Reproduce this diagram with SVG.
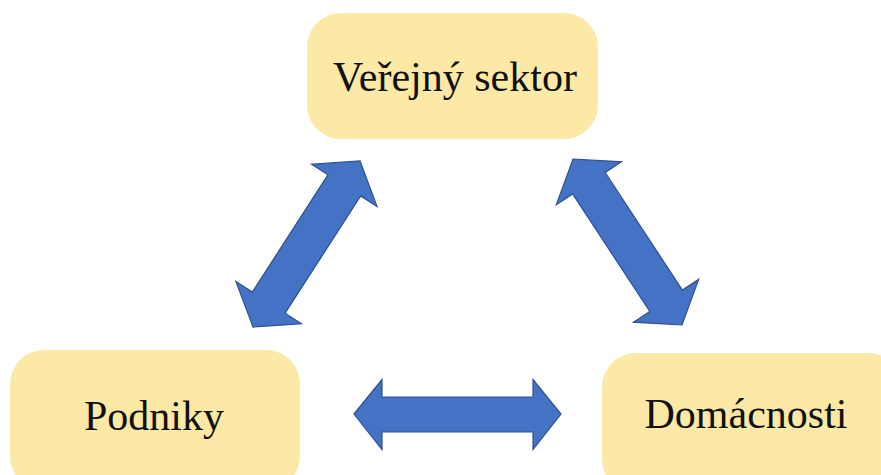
<svg xmlns="http://www.w3.org/2000/svg" width="881" height="475" viewBox="0 0 881 475">
<defs>
<style>
.box{fill:#FCE9A5;stroke:none}
.lbl{font-family:"Liberation Serif","Times New Roman",serif;font-size:42px;fill:#111;text-anchor:middle}
.arr{fill:#4472C4;stroke:#2F528F;stroke-width:1.2;stroke-linejoin:miter}
</style>
</defs>
<rect width="881" height="475" fill="#fff"/>
<g id="verejny-sektor">
<rect class="box" x="307" y="13" width="291" height="126" rx="34"/>
<text class="lbl" x="455" y="91">Veřejný sektor</text>
</g>
<g id="podniky">
<rect class="box" x="10" y="350" width="290" height="140" rx="34"/>
<text class="lbl" x="154" y="430">Podniky</text>
</g>
<g id="domacnosti">
<rect class="box" x="602" y="353" width="300" height="140" rx="34"/>
<text class="lbl" x="746" y="428">Domácnosti</text>
</g>
<g id="connectors">
<path class="arr" transform="translate(306.5 244) rotate(-57.2)" d="M -98.75 0 L -69.75 -39 L -69.75 -19.5 L 69.75 -19.5 L 69.75 -39 L 98.75 0 L 69.75 39 L 69.75 19.5 L -69.75 19.5 L -69.75 39 Z"/>
<path class="arr" transform="translate(627.5 242) rotate(56.7)" d="M -99.3 0 L -70.3 -39 L -70.3 -19.5 L 70.3 -19.5 L 70.3 -39 L 99.3 0 L 70.3 39 L 70.3 19.5 L -70.3 19.5 L -70.3 39 Z"/>
<path class="arr" d="M 354 414 L 382 379.5 L 382 397 L 533 397 L 533 379.5 L 561 414 L 533 449.5 L 533 432 L 382 432 L 382 449.5 Z"/>
</g>
</svg>
